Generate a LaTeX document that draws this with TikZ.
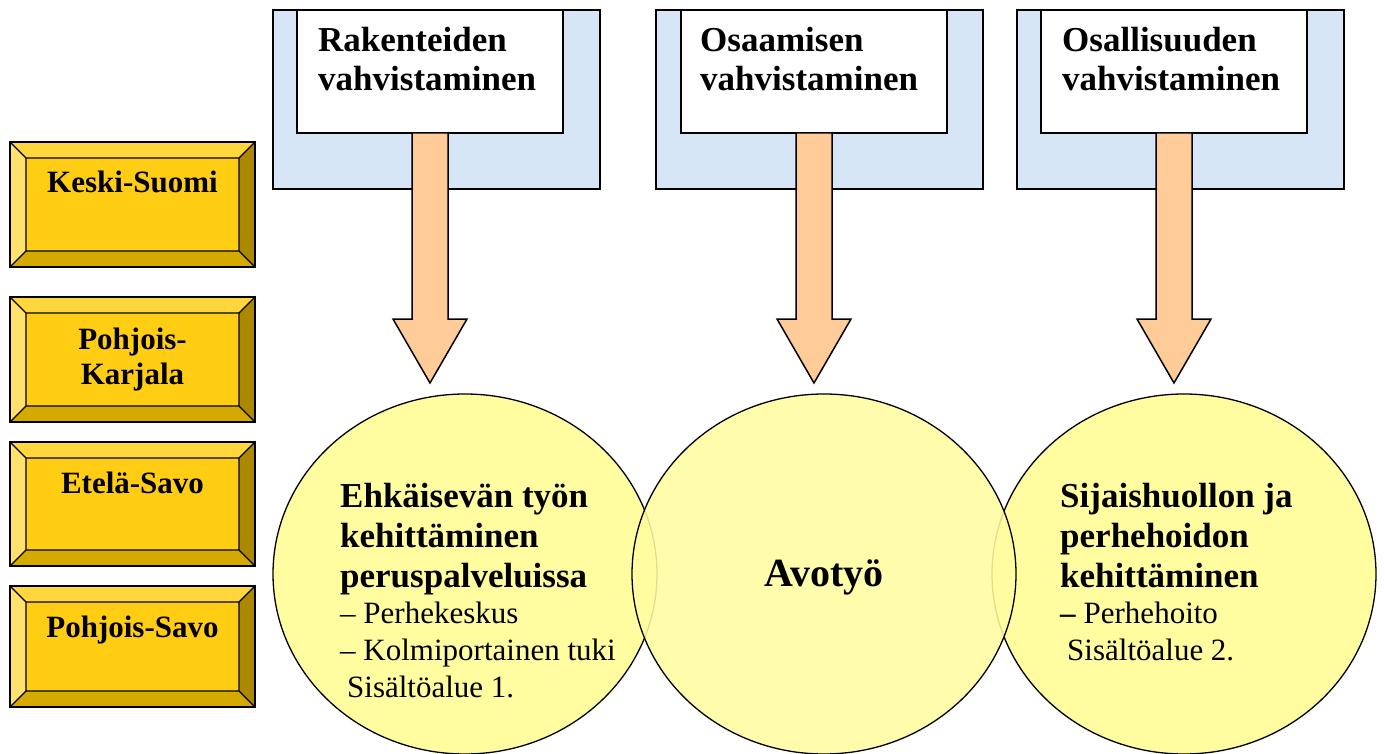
\documentclass[tikz,border=0pt]{standalone}
\usepackage{fontspec}
\setmainfont{Liberation Serif}
\usetikzlibrary{shapes, calc, positioning}
\definecolor{frameblue}{RGB}{214,230,246}
\definecolor{arrowpeach}{RGB}{255,204,153}
\definecolor{circleyellow}{RGB}{255,253,160}
\definecolor{goldmid}{RGB}{255,206,20}
\definecolor{goldtop}{RGB}{255,214,60}
\definecolor{goldleft}{RGB}{255,226,110}
\definecolor{goldright}{RGB}{170,136,0}
\definecolor{goldbottom}{RGB}{212,170,0}

\tikzset{
  regionbox/.style={draw, line width=1.5pt, fill=goldmid, minimum width=245pt, minimum height=125pt, inner sep=0pt, outer sep=0pt,
    path picture={
      \path (path picture bounding box.north west) coordinate (bnw)
            (path picture bounding box.north east) coordinate (bne)
            (path picture bounding box.south west) coordinate (bsw)
            (path picture bounding box.south east) coordinate (bse);
      \fill[goldtop] (bnw) -- (bne) -- ($(bne)+(-16,16)$) -- ($(bnw)+(16,16)$) -- cycle;
      \fill[goldleft] (bnw) -- ($(bnw)+(16,16)$) -- ($(bsw)+(16,-16)$) -- (bsw) -- cycle;
      \fill[goldright] (bne) -- ($(bne)+(-16,16)$) -- ($(bse)+(-16,-16)$) -- (bse) -- cycle;
      \fill[goldbottom] (bsw) -- ($(bsw)+(16,-16)$) -- ($(bse)+(-16,-16)$) -- (bse) -- cycle;
      \draw[line width=1.2pt] ($(bnw)+(16,16)$) rectangle ($(bse)+(-16,-16)$)
        (bnw) -- ++(16,16) (bne) -- ++(-16,16) (bsw) -- ++(16,-16) (bse) -- ++(-16,-16);
    }},
  regiontext/.style={font=\fontsize{31}{35}\selectfont\bfseries, anchor=base, inner sep=0pt},
  themeframe/.style={draw, line width=2pt, fill=frameblue, minimum width=327pt, minimum height=179pt, inner sep=0pt, outer sep=0pt},
  themebox/.style={draw, line width=1.5pt, fill=white, minimum width=266pt, minimum height=123pt, inner sep=0pt, outer sep=0pt},
  headtext/.style={font=\fontsize{35}{39}\selectfont\bfseries, anchor=base west, inner sep=0pt},
  areacircle/.style={ellipse, draw, line width=1.3pt, fill=circleyellow, minimum width=384pt, minimum height=360pt, inner sep=0pt, outer sep=0pt},
  areatext/.style={font=\fontsize{35}{40}\selectfont, anchor=base west, inner sep=0pt},
  blockarrow/.style={draw, line width=1.5pt, fill=arrowpeach, line join=miter},
}

\begin{document}
\begin{tikzpicture}[x=1pt,y=-1pt]
        \useasboundingbox (0,0) rectangle (1385,754);
        % Regions
        \node[regionbox] (ks) at (132.5,204.5) {};
        \node[regionbox] (pk) at (132.5,359.5) {};
        \node[regionbox, minimum height=124pt] (es) at (132.5,504) {};
        \node[regionbox, minimum height=121pt] (ps) at (132.5,646.5) {};
        \node[regiontext] (ks_t) at (132.5,193) {Keski-Suomi};
        \node[regiontext] (pk_t) at (132.5,349) {\begin{tabular}[t]{@{}c@{}}Pohjois-\\Karjala\end{tabular}};
        \node[regiontext] (es_t) at (132.5,493) {Etelä-Savo};
        \node[regiontext] (ps_t) at (132.5,637) {Pohjois-Savo};
        % Themes
        \node[themeframe] (f1) at (436.5,99.5) {};
        \node[themeframe] (f2) at (819.5,99.5) {};
        \node[themeframe] (f3) at (1180.5,99.5) {};
        \node[themebox] (h1) at (430,71.5) {};
        \node[themebox] (h2) at (814,71.5) {};
        \node[themebox] (h3) at (1174,71.5) {};
        \node[headtext] (h1_t) at (318,52) {\begin{tabular}[t]{@{}l@{}}Rakenteiden\\vahvistaminen\end{tabular}};
        \node[headtext] (h2_t) at (700,52) {\begin{tabular}[t]{@{}l@{}}Osaamisen\\vahvistaminen\end{tabular}};
        \node[headtext] (h3_t) at (1062,52) {\begin{tabular}[t]{@{}l@{}}Osallisuuden\\vahvistaminen\end{tabular}};
        % Content areas
        \node[areacircle] (c1) at (465,574) {};
        \node[areacircle] (c3) at (1184,574) {};
        \node[areacircle, fill opacity=0.88] (c2) at (824,574) {};
        \node[areatext] (c1_t) at (340,507) {\begin{tabular}[t]{@{}l@{}}
            \bfseries Ehkäisevän työn\\
            \bfseries kehittäminen\\
            \bfseries peruspalveluissa\\[-4pt]
            \fontsize{31}{37}\selectfont – Perhekeskus\\[-3pt]
            \fontsize{31}{37}\selectfont – Kolmiportainen tuki\\[-3pt]
            \fontsize{31}{37}\selectfont \hspace{7pt}Sisältöalue 1.
          \end{tabular}};
        \node[areatext, anchor=base, font=\fontsize{40}{44}\selectfont] (c2_t) at (824,586) {\bfseries Avotyö};
        \node[areatext] (c3_t) at (1060,507) {\begin{tabular}[t]{@{}l@{}}
            \bfseries Sijaishuollon ja\\
            \bfseries perhehoidon\\
            \bfseries kehittäminen\\[-4pt]
            \fontsize{31}{37}\selectfont \textbf{–} Perhehoito\\[-3pt]
            \fontsize{31}{37}\selectfont \hspace{7pt}Sisältöalue 2.
          \end{tabular}};
        % Arrows
        \coordinate (t1) at (430,383);
        \coordinate (t2) at (814,383);
        \coordinate (t3) at (1174,383);
        \draw[blockarrow] ($(h1.south)+(-18,0)$) -- ($(t1)+(-18,-64)$) -- ++(-19,0) -- (t1) -- ($(t1)+(37,-64)$) -- ++(-19,0) -- ($(h1.south)+(18,0)$) -- cycle;
        \draw[blockarrow] ($(h2.south)+(-18,0)$) -- ($(t2)+(-18,-64)$) -- ++(-19,0) -- (t2) -- ($(t2)+(37,-64)$) -- ++(-19,0) -- ($(h2.south)+(18,0)$) -- cycle;
        \draw[blockarrow] ($(h3.south)+(-18,0)$) -- ($(t3)+(-18,-64)$) -- ++(-19,0) -- (t3) -- ($(t3)+(37,-64)$) -- ++(-19,0) -- ($(h3.south)+(18,0)$) -- cycle;
\end{tikzpicture}
\end{document}
